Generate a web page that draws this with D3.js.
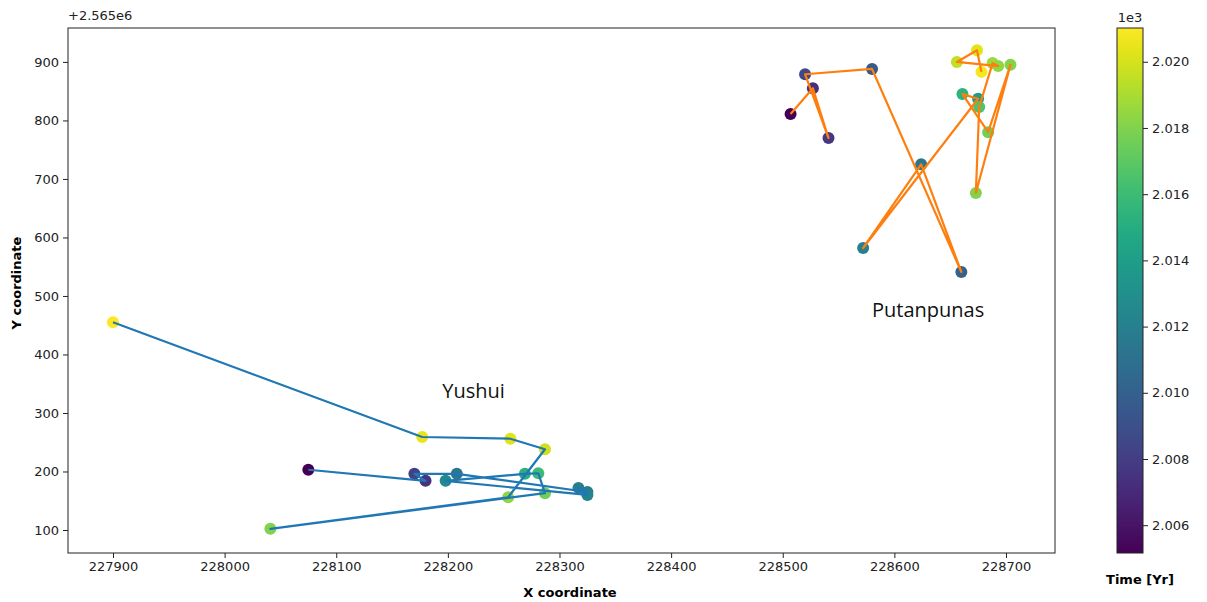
<!DOCTYPE html>
<html><head><meta charset="utf-8">
<script src="https://cdn.jsdelivr.net/npm/d3@7"></script>
<style>body{margin:0;background:#fff}</style>
</head><body>
<svg id="c" width="1207" height="602"></svg>
<script>
// Yushui (path order)
const yushuiX = [228075,228180,228170,228208,228325,228317,228325,228198,228269,228281,228287,228041,228254,228287,228256,228177,227900];
const yushuiY = [203,184,196,196,165,172,160,184,196,197,163,102,156,238,256,259,455];
const yushuiT = [2005.2,2007.4,2008.2,2011.4,2011.7,2011.9,2012.1,2012.6,2015.2,2016.0,2017.6,2018.0,2018.3,2019.9,2020.3,2020.5,2021.0];
// Putanpunas (path order)
const putanX = [228507,228527,228541,228520,228580,228660,228624,228572,228675,228661,228684,228704,228673,228676,228688,228693,228656,228674,228678];
const putanY = [811,855,770,879,888,541,725,582,837,845,780,895,676,823,898,893,900,920,883];
const putanT = [2005.2,2007.3,2007.7,2008.6,2009.5,2010.1,2011.4,2012.0,2013.8,2015.4,2017.6,2018.1,2018.0,2016.6,2018.7,2018.4,2019.5,2020.3,2020.8];

const xTicks = [227900,228000,228100,228200,228300,228400,228500,228600,228700];
const yTicks = [100,200,300,400,500,600,700,800,900];
const cTicks = [2006,2008,2010,2012,2014,2016,2018,2020];

const svg = d3.select('#c');
const L=68,T=28,R=1055,B=553;
const x = d3.scaleLinear().domain([227859.7,228743.9]).range([L,R]);
const y = d3.scaleLinear().domain([60.7,958]).range([B,T]);
const cdom=[2005.16,2021.02];
const color = d3.scaleSequential(d3.interpolateViridis).domain(cdom);

const font='DejaVu Sans, sans-serif';
const xa = svg.append('g').attr('transform',`translate(0,${B})`)
  .call(d3.axisBottom(x).tickValues(xTicks).tickFormat(d3.format('d')).tickSizeOuter(0).tickSize(5).tickPadding(4));
const ya = svg.append('g').attr('transform',`translate(${L},0)`)
  .call(d3.axisLeft(y).tickValues(yTicks).tickFormat(d3.format('d')).tickSizeOuter(0).tickSize(5).tickPadding(4));
[xa,ya].forEach(a=>{a.select('.domain').remove();a.selectAll('text').attr('font-family',font).attr('font-size',13).attr('fill','#222');a.selectAll('line').attr('stroke','#222');});
svg.append('rect').attr('x',L).attr('y',T).attr('width',R-L).attr('height',B-T).attr('fill','none').attr('stroke','#222').attr('stroke-width',1);

svg.append('text').attr('x',L).attr('y',20).attr('font-family',font).attr('font-size',13).attr('fill','#222').text('+2.565e6');
svg.append('text').attr('x',570).attr('y',597).attr('text-anchor','middle').attr('font-family',font).attr('font-size',13).attr('font-weight','bold').text('X coordinate');
svg.append('text').attr('transform','translate(21,283) rotate(-90)').attr('text-anchor','middle').attr('font-family',font).attr('font-size',13).attr('font-weight','bold').text('Y coordinate');

function drawSeries(xs,ys,ts,stroke){
  const pts = xs.map((v,i)=>({x:v,y:ys[i],t:ts[i]}));
  svg.append('g').selectAll('circle').data(pts).join('circle')
    .attr('cx',d=>x(d.x)).attr('cy',d=>y(d.y)).attr('r',6).attr('fill',d=>color(d.t));
  svg.append('path').datum(pts).attr('d',d3.line().x(d=>x(d.x)).y(d=>y(d.y)))
    .attr('fill','none').attr('stroke',stroke).attr('stroke-width',2.2).attr('stroke-linejoin','round');
}
drawSeries(yushuiX,yushuiY,yushuiT,'#1f77b4');
drawSeries(putanX,putanY,putanT,'#ff7f0e');

svg.append('text').attr('x',x(228195)).attr('y',y(325)).attr('font-family','Open Sans, sans-serif').attr('font-size',20).attr('fill','#111').text('Yushui');
svg.append('text').attr('x',x(228580)).attr('y',y(464)).attr('font-family','Open Sans, sans-serif').attr('font-size',20).attr('fill','#111').text('Putanpunas');

// colorbar
const cx0=1117,cw=26;
const cy = d3.scaleLinear().domain(cdom).range([B,T]);
const grad = svg.append('defs').append('linearGradient').attr('id','vg').attr('x1',0).attr('y1',1).attr('x2',0).attr('y2',0);
d3.range(0,1.0001,0.05).forEach(s=>grad.append('stop').attr('offset',s).attr('stop-color',d3.interpolateViridis(s)));
svg.append('rect').attr('x',cx0).attr('y',T).attr('width',cw).attr('height',B-T).attr('fill','url(#vg)').attr('stroke','#222').attr('stroke-width',1);
const ca = svg.append('g').attr('transform',`translate(${cx0+cw},0)`)
  .call(d3.axisRight(cy).tickValues(cTicks).tickFormat(d=>(d/1000).toFixed(3)).tickSize(5).tickPadding(4).tickSizeOuter(0));
ca.select('.domain').remove();
ca.selectAll('text').attr('font-family',font).attr('font-size',13).attr('fill','#222');
ca.selectAll('line').attr('stroke','#222');
svg.append('text').attr('x',cx0+cw/2).attr('y',22).attr('text-anchor','middle').attr('font-family',font).attr('font-size',13).attr('fill','#222').text('1e3');
svg.append('text').attr('x',cx0+cw/2+10).attr('y',584).attr('text-anchor','middle').attr('font-family',font).attr('font-size',13).attr('font-weight','bold').text('Time [Yr]');
</script>
</body></html>
